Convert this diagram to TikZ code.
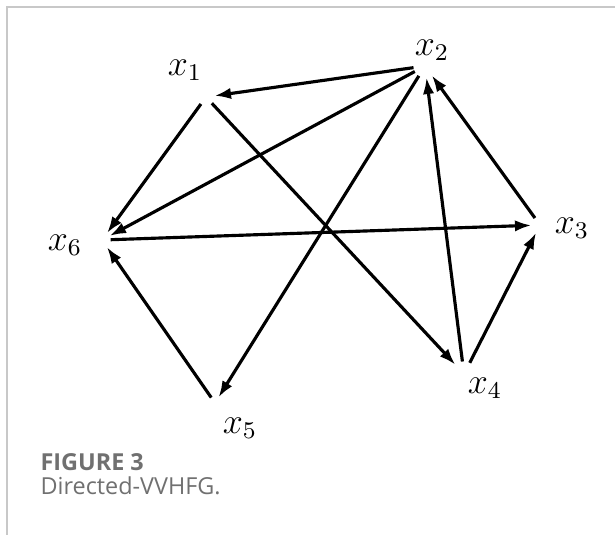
\documentclass[tikz,border=0pt]{standalone}
\usepackage{fontspec}
\newfontfamily\capfont{Open Sans}
\usetikzlibrary{arrows.meta}
\definecolor{framegray}{RGB}{200,200,200}
\definecolor{capgray}{RGB}{112,112,112}
\tikzset{
  vertex/.style={circle,inner sep=0pt,minimum size=#1*0.3333pt},
  vertex/.default=16,
  lbl/.style={inner sep=0pt,font=\large},
  edge/.style={line width=1.05pt,-{Latex[length=5.5pt,width=3.8pt]}}
}

\begin{document}
\begin{tikzpicture}[x=0.3333pt,y=-0.3333pt]
    \useasboundingbox (0,0) rectangle (615,535);
    \draw[framegray,line width=0.5pt] (615,7) -- (7,7) -- (7,535);
    % vertices
    \node[vertex=16] (v1) at (206,97) {};
    \node[vertex=22] (v2) at (425,66) {};
    \node[vertex=16] (v3) at (540,225) {};
    \node[vertex=24] (v4) at (464,374) {};
    \node[vertex=12] (v5) at (215,403) {};
    \node[vertex=16] (v6) at (102,240) {};
    % labels
    \node[lbl] (l1) at (185,70) {$x_1$};
    \node[lbl] (l2) at (432,50) {$x_2$};
    \node[lbl] (l3) at (572,228) {$x_3$};
    \node[lbl] (l4) at (485,388) {$x_4$};
    \node[lbl] (l5) at (240,428) {$x_5$};
    \node[lbl] (l6) at (65,245) {$x_6$};
    % edges
    \draw[edge] (v2) -- (v1);
    \draw[edge] (v1) -- (v6);
    \draw[edge] (v1) -- (v4);
    \draw[edge] (v2) -- (v6);
    \draw[edge] (v2) -- (v5);
    \draw[edge] (v4) -- (v2);
    \draw[edge] (v4) -- (v3);
    \draw[edge] (v3) -- (v2);
    \draw[edge] (v6) -- (v3);
    \draw[edge] (v5) -- (v6);
    % caption
    \node[anchor=west,inner sep=0pt,text=capgray,font=\capfont\fontsize{7.8}{9}\selectfont\bfseries] (fig) at (40,462) {FIGURE 3};
    \node[anchor=west,inner sep=0pt,text=capgray,font=\capfont\fontsize{7.8}{9}\selectfont] (cap) at (40,486) {Directed-VVHFG.};
\end{tikzpicture}
\end{document}
